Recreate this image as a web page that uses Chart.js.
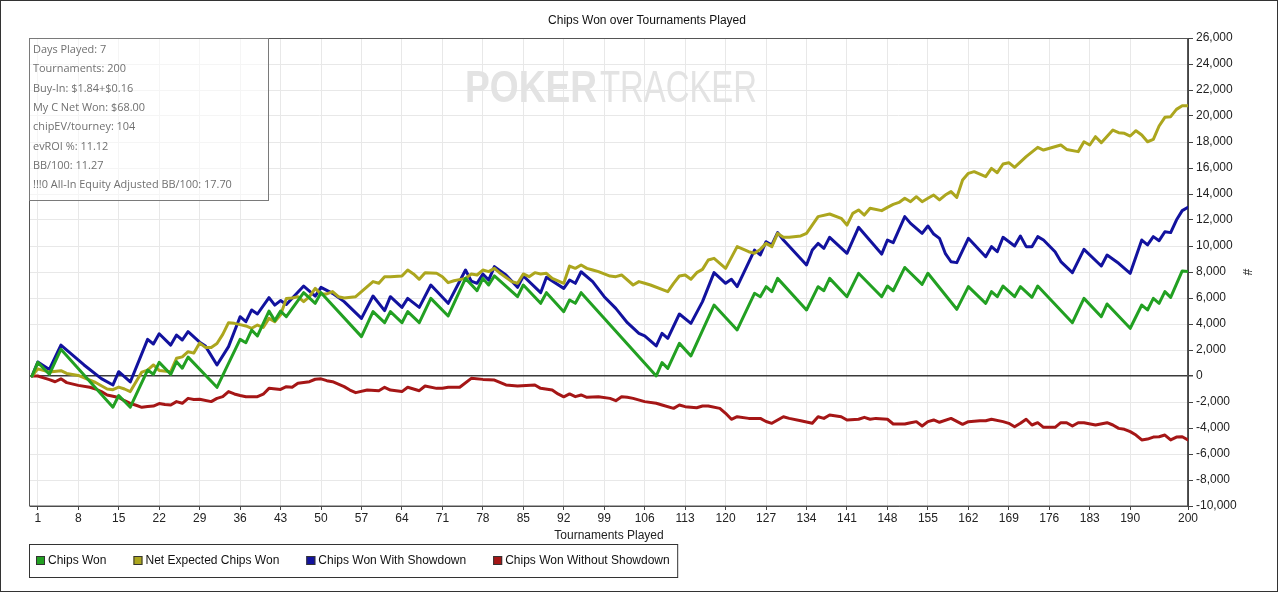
<!DOCTYPE html>
<html><head><meta charset="utf-8">
<script src="https://cdn.jsdelivr.net/npm/chart.js@4.4.1/dist/chart.umd.min.js"></script>
<style>html,body{margin:0;padding:0;background:#fff;}canvas{display:block;}</style>
</head><body>
<canvas id="c" width="1280" height="593"></canvas>
<script>
const chartTitle = 'Chips Won over Tournaments Played';
const xTitle = 'Tournaments Played';
const yTitle = '#';
const xTicks = [1,8,15,22,29,36,43,50,57,64,71,78,85,92,99,106,113,120,127,134,141,148,155,162,169,176,183,190,200];
const yMin = -10000, yMax = 26000, yStep = 2000;
const statsLines = ['Days Played: 7','Tournaments: 200','Buy-In: $1.84+$0.16','My C Net Won: $68.00','chipEV/tourney: 104','evROI %: 11.12','BB/100: 11.27','!!!0 All-In Equity Adjusted BB/100: 17.70'];
const watermarkBold = 'POKER';
const watermarkLight = 'TRACKER';
const seriesNames = ['Chips Won','Net Expected Chips Won','Chips Won With Showdown','Chips Won Without Showdown'];
const seriesColors = ['#22a022','#aca61e','#12129e','#a51616'];

// Chips Won (tournament number, chips)
const greenT = [0,1,3,5,14,15,17,20,21,22,24,25,26,27,32,36,37,38,39,41,42,43,44,47,49,50,57,59,61,62,64,65,67,69,72,75,77,78,79,80,84,85,88,89,92,93,94,95,108,109,110,112,114,118,122,125,126,127,128,129,134,136,137,138,141,143,147,148,149,151,154,155,160,162,165,166,167,168,170,171,173,174,180,182,185,186,190,192,193,194,195,196,197,199,200];
const greenV = [0,1050,130,2050,-2400,-1500,-2400,460,130,1050,130,1100,600,1450,-870,2820,2560,3530,3080,4990,4260,4990,4560,6410,5590,6410,3030,4950,4100,4950,4100,4950,4100,5970,4620,7510,6560,7510,7000,7700,6100,7000,5590,6410,4950,5850,5590,6410,0,1030,590,2510,1540,5460,3540,6360,6100,6870,6490,7510,5080,6870,6560,7510,6100,7900,6100,6920,6560,8350,7050,7900,5130,6870,5590,6490,6100,6920,6100,6870,6050,6920,4100,5970,4560,5540,3670,5460,5080,5970,5590,6490,6050,8080,8030];

// Net Expected Chips Won
const yellowT = [0,1,3,5,6,8,11,13,14,15,16,17,19,20,21,22,24,25,26,27,28,29,30,31,32,33,34,35,36,37,38,39,40,41,42,43,44,45,46,47,48,49,50,51,52,53,54,56,57,59,60,61,62,64,65,66,67,68,70,71,72,73,75,76,77,78,79,80,81,83,84,85,86,87,88,89,90,92,93,94,95,96,97,98,100,101,102,104,105,106,107,110,111,112,113,114,115,116,117,118,120,122,124,125,126,127,128,129,130,131,133,134,136,138,140,141,142,143,144,145,147,148,149,150,151,152,153,154,155,156,157,158,159,160,161,162,163,165,166,167,168,169,170,172,174,175,178,179,181,182,183,184,185,187,188,189,190,191,192,193,194,195,196,197,198,199,200];
const yellowV = [0,550,300,410,200,40,-500,-1000,-1050,-850,-1000,-1200,300,450,850,430,330,1360,1470,1870,1760,2530,2200,2200,2500,3200,4100,4050,3950,3850,3670,3920,3740,4430,4180,4700,5970,6000,6100,5720,6100,6740,6300,6310,6490,6100,6000,6100,6490,7260,7130,7640,7640,7690,8150,7850,7440,7950,7900,7640,7180,7330,7510,7850,7770,8150,8030,8280,7900,7260,7130,7850,7640,7950,7850,7900,7510,7130,8460,8280,8540,8280,8150,8030,7690,7640,7770,7000,7260,7130,7000,6490,7130,7690,7770,7440,7950,8200,8920,9050,8280,9950,9560,9440,9740,10200,9950,10970,10670,10670,10770,10970,12260,12460,12130,11610,12510,12770,12380,12900,12720,12970,13200,13350,13670,13410,13790,13410,13670,13920,13540,13920,14180,13740,15080,15590,15720,15330,15970,15640,16310,16410,16050,16870,17590,17380,17770,17430,17260,18020,17770,18410,17950,18920,18720,18670,18460,18870,18540,18020,18200,19230,19900,19950,20510,20790,20790];

// Chips Won With Showdown
const blueT = [0,1,3,5,9,12,14,15,17,20,21,22,24,25,26,27,29,30,32,34,36,37,38,39,41,42,43,44,47,49,50,52,54,57,59,61,62,64,65,67,69,72,75,76,77,78,79,80,82,84,85,88,89,92,93,94,95,97,99,101,103,105,106,108,109,110,112,114,116,118,120,121,122,125,126,127,128,129,130,134,135,136,137,138,141,143,147,148,149,151,152,154,155,156,157,158,159,160,162,165,166,167,168,170,171,172,173,174,175,177,178,180,182,185,186,188,190,192,193,194,195,196,197,198,199,200];
const blueV = [0,1080,500,2380,850,-200,-690,330,-460,2820,2460,3250,2380,3150,2770,3410,2600,2300,850,2260,4560,4180,5080,4770,6030,5450,5800,5500,6920,6150,6820,6360,5720,4430,6150,5030,6100,5280,5970,5280,7000,5590,8150,7300,7130,7850,7380,8410,7770,6820,7690,6410,7590,6740,7380,7130,8020,7260,6100,5200,4100,3280,3080,2310,3280,2900,4770,4050,5720,7950,7130,7440,6870,9690,9310,10330,10080,11030,10460,8540,9690,10200,9820,10670,9440,11440,9380,10460,10260,12260,11740,10970,11540,10920,10590,9440,8790,8720,10590,9180,9950,9560,10670,10000,10770,9950,9950,10720,10460,9560,8800,7950,9740,8460,9310,8670,7900,10460,10080,10720,10410,11100,11030,12000,12720,12970];

// Chips Won Without Showdown
const redT = [0,1,3,4,5,6,8,10,11,12,13,14,15,16,17,18,19,20,21,22,23,24,25,26,27,28,29,31,32,33,34,35,36,37,39,40,41,43,44,45,46,48,49,50,51,52,54,55,56,58,60,61,62,64,65,67,68,70,71,72,74,76,78,80,82,84,87,88,90,91,92,93,94,95,96,98,100,101,102,103,104,106,108,109,111,112,113,115,116,117,119,120,121,122,124,126,127,128,130,131,133,135,136,137,138,140,141,143,144,145,146,148,149,151,152,153,154,155,156,157,159,161,162,164,165,166,168,169,170,171,172,173,174,175,177,178,179,180,181,182,184,186,187,188,189,190,191,192,193,194,195,196,197,198,199,200];
const redV = [0,0,-280,-440,-220,-510,-720,-870,-1000,-1200,-1460,-1560,-1650,-1900,-2100,-2250,-2410,-2350,-2310,-2120,-2200,-2230,-1970,-2100,-1720,-1800,-1790,-1970,-1720,-1590,-1200,-1380,-1500,-1590,-1590,-1400,-950,-1030,-820,-870,-560,-440,-250,-220,-360,-440,-820,-1080,-1280,-1080,-1130,-870,-1080,-1200,-870,-1130,-770,-950,-950,-870,-870,-180,-260,-310,-690,-770,-690,-950,-1080,-1380,-1600,-1380,-1590,-1460,-1640,-1590,-1720,-1900,-1590,-1640,-1720,-1970,-2100,-2230,-2490,-2230,-2360,-2440,-2310,-2310,-2490,-2870,-3330,-3130,-3260,-3260,-3500,-3640,-3130,-3260,-3440,-3640,-3130,-3260,-3000,-3130,-3380,-3330,-3180,-3330,-3260,-3330,-3690,-3690,-3590,-3510,-3850,-3510,-3380,-3560,-3260,-3720,-3510,-3440,-3440,-3330,-3510,-3640,-3900,-3640,-3330,-3770,-3590,-3950,-3950,-3590,-3590,-3850,-3590,-3590,-3770,-3590,-3770,-4030,-4100,-4280,-4540,-4920,-4850,-4700,-4670,-4540,-4920,-4700,-4670,-4920];

const FONT = "'Liberation Sans', Arial, sans-serif";
const pts = (T, V) => T.map((t, i) => ({x: t, y: V[i]}));
const seriesT = [greenT, yellowT, blueT, redT];
const seriesV = [greenV, yellowV, blueV, redV];

const decor = {
  id: 'decor',
  beforeDraw(chart) {
    const ctx = chart.ctx;
    ctx.save(); ctx.fillStyle = '#fff'; ctx.fillRect(0, 0, chart.width, chart.height); ctx.restore();
  },
  beforeDatasetsDraw(chart) {
    const ctx = chart.ctx, a = chart.chartArea;
    ctx.save();
    // watermark
    ctx.fillStyle = '#e3e3e3';
    ctx.textBaseline = 'alphabetic';
    ctx.font = 'bold 44px ' + FONT;
    let w = ctx.measureText(watermarkBold).width;
    ctx.save(); ctx.translate(465, 102); ctx.scale(132 / w, 1); ctx.fillText(watermarkBold, 0, 0); ctx.restore();
    ctx.font = '44px ' + FONT;
    w = ctx.measureText(watermarkLight).width;
    ctx.save(); ctx.translate(600, 102); ctx.scale(157 / w, 1); ctx.fillText(watermarkLight, 0, 0); ctx.restore();
    // plot frame
    ctx.strokeStyle = '#555'; ctx.lineWidth = 1;
    ctx.strokeRect(a.left - 0.5, a.top + 0.5, a.right - a.left, a.bottom - a.top - 0.5);
    ctx.restore();
  },
  afterDraw(chart) {
    const ctx = chart.ctx, a = chart.chartArea;
    ctx.save();
    // outer frame
    ctx.strokeStyle = '#333'; ctx.lineWidth = 1;
    ctx.strokeRect(0.5, 0.5, 1277, 591);
    // title
    ctx.fillStyle = '#111'; ctx.font = '12px ' + FONT; ctx.textAlign = 'center'; ctx.textBaseline = 'middle';
    ctx.fillText(chartTitle, 647, 21);
    // stats box
    ctx.fillStyle = 'rgba(255,255,255,0.55)';
    ctx.fillRect(a.left, a.top, 239, 162);
    ctx.strokeStyle = '#7a7a7a';
    ctx.strokeRect(a.left - 0.5, a.top + 0.5, 239, 162);
    ctx.font = "12px 'Open Sans', sans-serif";
    const longest = Math.max(...statsLines.map(s => ctx.measureText(s).width));
    const fs = 12 * 199 / longest;
    ctx.font = fs.toFixed(2) + "px 'Open Sans', sans-serif";
    ctx.fillStyle = '#707070'; ctx.textAlign = 'left'; ctx.textBaseline = 'middle';
    statsLines.forEach((s, i) => ctx.fillText(s, 33, 50 + i * 19.3));
    // legend
    ctx.font = '12px ' + FONT;
    let x = 36; const cy = 560.5;
    chart.data.datasets.forEach(ds => {
      ctx.fillStyle = ds.borderColor;
      ctx.fillRect(x, cy - 4.5, 9, 9);
      ctx.strokeStyle = '#333';
      ctx.strokeRect(x + 0.5, cy - 4, 8, 8);
      ctx.fillStyle = '#111';
      ctx.fillText(ds.label, x + 12, cy);
      x += 12 + ctx.measureText(ds.label).width + 27;
    });
    ctx.strokeStyle = '#333';
    ctx.strokeRect(29.5, 544.5, x - 27 + 8 - 29.5, 33);
    ctx.restore();
  }
};

new Chart(document.getElementById('c'), {
  type: 'line',
  data: {
    datasets: seriesNames.map((name, i) => ({
      label: name,
      data: pts(seriesT[i], seriesV[i]),
      borderColor: seriesColors[i],
      backgroundColor: seriesColors[i],
      borderWidth: 3,
      pointRadius: 0,
      tension: 0,
      fill: false,
      borderJoinStyle: 'round',
      borderCapStyle: 'round'
    }))
  },
  options: {
    responsive: false,
    animation: false,
    devicePixelRatio: 1,
    layout: {padding: {top: 38, left: 30, right: 0, bottom: 50}},
    plugins: {legend: {display: false}, title: {display: false}, tooltip: {enabled: false}},
    scales: {
      x: {
        type: 'linear', min: -0.35, max: 200, bounds: 'data',
        afterBuildTicks: s => { s.ticks = xTicks.map(v => ({value: v})); },
        afterFit: s => { s.height = 37; },
        ticks: {autoSkip: false, maxRotation: 0, padding: 1, color: '#222', font: {family: FONT, size: 12}, callback: v => String(v)},
        grid: {color: '#e8e8e8', tickLength: 4, tickColor: '#444'},
        border: {color: '#444', width: 1},
        title: {display: true, text: xTitle, padding: {top: 0, bottom: 0}, color: '#222', font: {family: FONT, size: 12}}
      },
      y: {
        position: 'right', min: yMin, max: yMax,
        afterFit: s => { s.width = 92; },
        ticks: {stepSize: yStep, padding: 3, color: '#222', font: {family: FONT, size: 12}, callback: v => v.toLocaleString('en-US')},
        grid: {
          color: c => (c.tick && c.tick.value === 0) ? '#3a3a3a' : '#e8e8e8',
          lineWidth: c => (c.tick && c.tick.value === 0) ? 1.5 : 1,
          tickLength: 5, tickColor: '#444'
        },
        border: {color: '#444', width: 1},
        title: {display: true, text: yTitle, padding: {top: 26, bottom: 0}, color: '#222', font: {family: FONT, size: 12}}
      }
    }
  },
  plugins: [decor]
});
</script>
</body></html>
